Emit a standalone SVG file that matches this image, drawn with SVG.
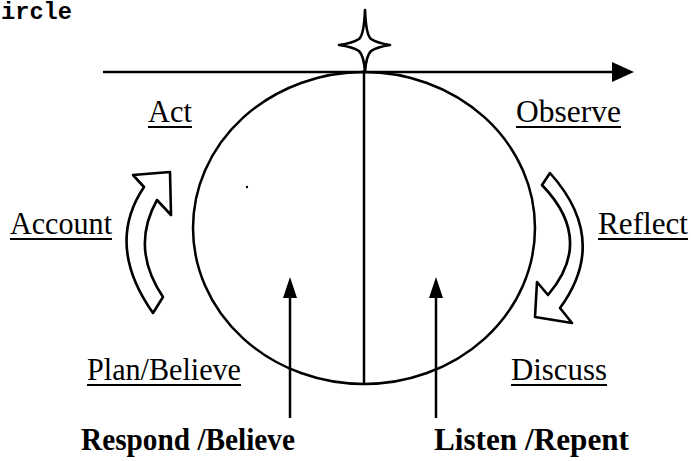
<svg xmlns="http://www.w3.org/2000/svg" width="691" height="461" viewBox="0 0 691 461">
<style>
.ln{stroke:#000;stroke-width:2.5;fill:none}
.blk{fill:#fff;stroke:#000;stroke-width:2.6;stroke-linejoin:round}
.lbl{font-family:"Liberation Serif","Times New Roman",serif;font-size:32px;fill:#000}
.bold{font-family:"Liberation Serif","Times New Roman",serif;font-size:32px;font-weight:bold;fill:#000}
.ul{stroke:#000;stroke-width:2}
</style>
<rect width="691" height="461" fill="#fff"/>
<text x="1" y="19" font-family="'Liberation Mono','Courier New',monospace" font-weight="bold" font-size="23" textLength="71" lengthAdjust="spacingAndGlyphs">ircle</text>

<g id="connectors">
<line class="ln" x1="103" y1="72" x2="614" y2="72" stroke-width="3"/>
<path d="M612,62 L634,72 L612,82 Z" fill="#000"/>
<line class="ln" x1="290" y1="418" x2="290" y2="295"/>
<path d="M283,298 L290,277 L297,298 Z" fill="#000"/>
<line class="ln" x1="436" y1="418" x2="436" y2="295"/>
<path d="M429,298 L436,277 L443,298 Z" fill="#000"/>
</g>

<g id="circle">
<ellipse class="ln" cx="364" cy="228" rx="171" ry="156" stroke-width="2.8"/>
<line class="ln" x1="364" y1="70" x2="364" y2="384"/>
<circle cx="247" cy="187" r="1.2" fill="#000"/>
</g>

<g id="star">
<path class="blk" stroke-width="3" d="M365,10 Q366,35 371,39 Q377,43 390,45 Q377,47 371,51 Q366,56 365,72 Q364,56 359,51 Q353,47 339,45 Q353,43 359,39 Q364,35 365,10 Z"/>
</g>

<g id="arrow-account">
<path class="blk" d="M170,172 L133,175 L144,187 Q105,245 153,313 L163,297 Q130,248 157,200 L171,215 Z"/>
</g>

<g id="arrow-reflect">
<path class="blk" d="M542,185 L550,173 Q610,240 560,308 L572,323 L535,317 L537,282 L548,295 Q595,240 542,185 Z"/>
</g>

<g id="label-act">
<text class="lbl" x="148" y="122" textLength="44" lengthAdjust="spacingAndGlyphs">Act</text>
<line class="ul" x1="148" y1="127" x2="192" y2="127"/>
</g>
<g id="label-observe">
<text class="lbl" x="516" y="122" textLength="105" lengthAdjust="spacingAndGlyphs">Observe</text>
<line class="ul" x1="516" y1="127" x2="621" y2="127"/>
</g>
<g id="label-account">
<text class="lbl" x="10" y="234" textLength="102" lengthAdjust="spacingAndGlyphs">Account</text>
<line class="ul" x1="10" y1="239" x2="112" y2="239"/>
</g>
<g id="label-reflect">
<text class="lbl" x="598" y="234" textLength="90" lengthAdjust="spacingAndGlyphs">Reflect</text>
<line class="ul" x1="598" y1="239" x2="688" y2="239"/>
</g>
<g id="label-plan">
<text class="lbl" x="87" y="380" textLength="154" lengthAdjust="spacingAndGlyphs">Plan/Believe</text>
<line class="ul" x1="87" y1="385" x2="241" y2="385"/>
</g>
<g id="label-discuss">
<text class="lbl" x="511" y="380" textLength="96" lengthAdjust="spacingAndGlyphs">Discuss</text>
<line class="ul" x1="511" y1="385" x2="607" y2="385"/>
</g>
<g id="label-respond">
<text class="bold" x="81" y="450" textLength="214" lengthAdjust="spacingAndGlyphs">Respond /Believe</text>
</g>
<g id="label-listen">
<text class="bold" x="434" y="450" textLength="195" lengthAdjust="spacingAndGlyphs">Listen /Repent</text>
</g>
</svg>
